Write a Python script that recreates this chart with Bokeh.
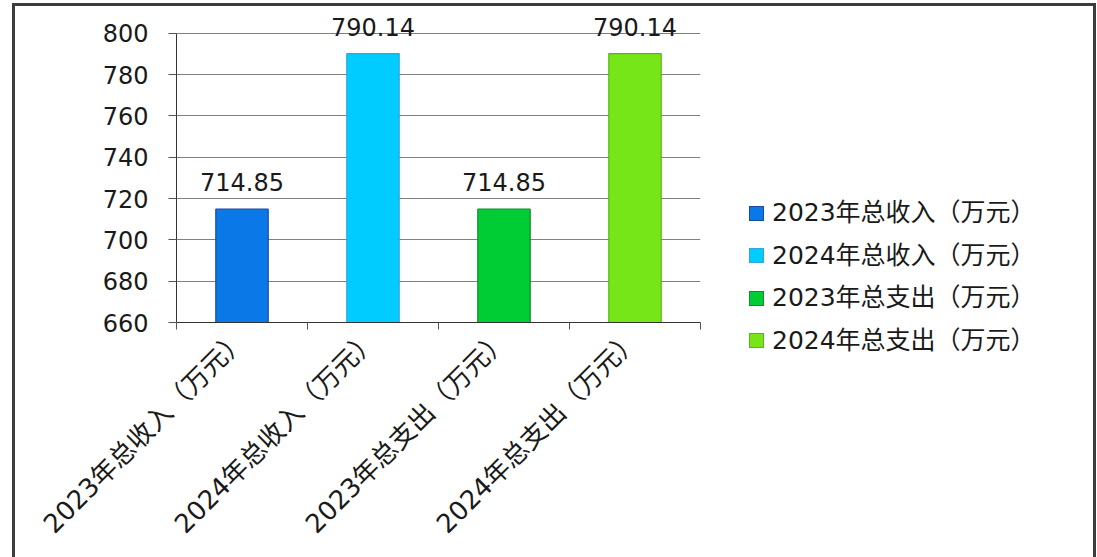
from math import pi
from bokeh.plotting import figure
from bokeh.layouts import row
from bokeh.models import (ColumnDataSource, FixedTicker, LabelSet, Range1d, Div)
from bokeh.core.properties import value
from bokeh.embed import file_html
from bokeh.resources import INLINE

categories = ["2023年总收入（万元）", "2024年总收入（万元）", "2023年总支出（万元）", "2024年总支出（万元）"]
values = [714.85, 790.14, 714.85, 790.14]
fill_colors = ["#0A78E6", "#00CCFF", "#00CC33", "#77E619"]
line_colors = ["#1A4AA0", "#2FA8D8", "#168A2C", "#5AB514"]
y_ticks = [660, 680, 700, 720, 740, 760, 780, 800]

xs = [i + 0.5 for i in range(len(categories))]
source = ColumnDataSource(dict(
    x=xs, top=values, cat=categories, fill=fill_colors, line=line_colors,
    label=[f"{v:.2f}" for v in values],
))

p = figure(width=705, height=554, output_backend="svg", toolbar_location=None,
           x_range=Range1d(0, len(categories)), y_range=Range1d(660, 812),
           min_border_left=161, min_border_right=20, min_border_top=2, min_border_bottom=238)
p.outline_line_color = None
p.background_fill_color = "white"
p.border_fill_color = "white"

r = p.vbar(x="x", top="top", bottom=660, width=0.4, source=source,
           fill_color="fill", line_color="line", line_width=1.2)

labels = LabelSet(x="x", y="top", text="label", source=source, text_align="center",
                  text_baseline="bottom", y_offset=18, text_font=value("DejaVu Sans"),
                  text_font_size=value("24px"), text_color="#1a1a1a")
p.add_layout(labels)

# y axis
p.yaxis.ticker = FixedTicker(ticks=y_ticks)
p.yaxis.bounds = (660, 800)
p.yaxis.major_tick_out = 8
p.yaxis.major_tick_in = 0
p.yaxis.minor_tick_out = 0
p.yaxis.minor_tick_in = 0
p.yaxis.major_label_standoff = 20
p.yaxis.major_label_text_font = "DejaVu Sans"
p.yaxis.major_label_text_font_size = "24px"
p.yaxis.major_label_text_color = "#1a1a1a"
p.yaxis.axis_line_color = "#333333"
p.yaxis.major_tick_line_color = "#555555"
p.ygrid.ticker = FixedTicker(ticks=y_ticks)
p.ygrid.grid_line_color = "#808080"
p.ygrid.grid_line_width = 1.2
p.xgrid.grid_line_color = None

# x axis
p.xaxis.ticker = FixedTicker(ticks=xs, minor_ticks=list(range(len(categories) + 1)))
p.xaxis.major_label_overrides = {x: c for x, c in zip(xs, categories)}
p.xaxis.major_tick_out = 0
p.xaxis.major_tick_in = 0
p.xaxis.minor_tick_out = 7
p.xaxis.minor_tick_in = 0
p.xaxis.minor_tick_line_color = "#555555"
p.xaxis.axis_line_color = "#333333"
p.xaxis.major_label_orientation = pi / 4
p.xaxis.major_label_standoff = 5
p.xaxis.major_label_text_font = "DejaVu Sans, Noto Sans CJK SC"
p.xaxis.major_label_text_font_size = "26px"
p.xaxis.major_label_text_color = "#1a1a1a"

# legend, built from the same category and colour lists
rows_html = "".join(
    f'<div style="display:flex;align-items:center;height:42.5px;white-space:nowrap;">'
    f'<span style="display:inline-block;box-sizing:border-box;width:15px;height:15px;'
    f'background:{fc};border:1px solid {lc};margin-right:8px;"></span>'
    f'<span>{c}</span></div>'
    for c, fc, lc in zip(categories, fill_colors, line_colors)
)
legend_div = Div(text=rows_html, width=363, height=554,
                 styles={"padding-left": "24px", "padding-top": "181px",
                         "box-sizing": "border-box",
                         "font-family": "'DejaVu Sans', 'Noto Sans CJK SC', sans-serif",
                         "font-size": "25px", "color": "#1a1a1a",
                         "background-color": "white"})

layout = row(p, legend_div, spacing=0)
layout.styles = {"border": "3px solid #3c3c3c", "border-bottom": "none",
                 "box-sizing": "border-box", "margin-left": "12px", "margin-top": "3px",
                 "background-color": "white"}

open("out.html", "w").write(file_html(layout, INLINE))
